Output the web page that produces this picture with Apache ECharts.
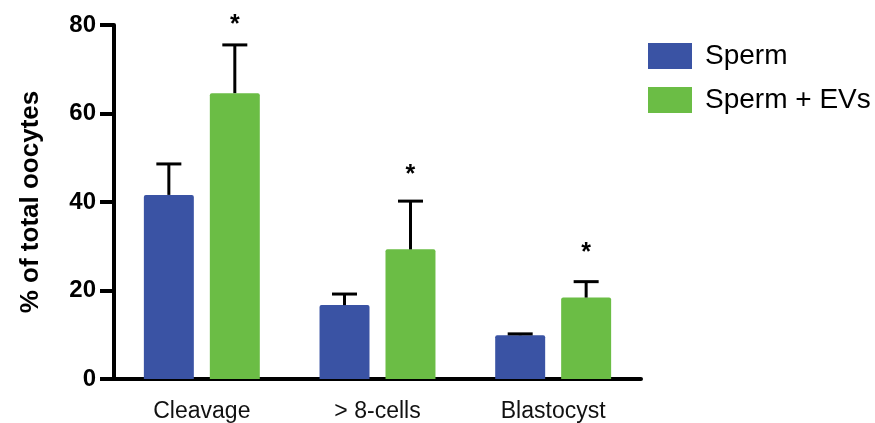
<!DOCTYPE html>
<html>
<head>
<meta charset="utf-8">
<script src="https://cdn.jsdelivr.net/npm/echarts@6/dist/echarts.min.js"></script>
<style>
html,body{margin:0;padding:0;background:#fff;}
#chart{width:875px;height:423px;}
</style>
</head>
<body>
<div id="chart"></div>
<script>
// ---- data ----
var categories = ['Cleavage', '> 8-cells', 'Blastocyst'];
var seriesNames = ['Sperm', 'Sperm + EVs'];
var spermMean = [41.6, 16.7, 9.9];
var spermErr  = [7.0, 2.5, 0.3];
var evMean    = [64.6, 29.3, 18.4];
var evErr     = [10.9, 10.9, 3.6];
var evSigMark = ['*', '*', '*'];
var evSigLevel = [81.1, 47.2, 29.6];   // y value where the significance mark sits
var yTicks = [0, 20, 40, 60, 80];

var COLORS = ['#3a53a4', '#6bbd45'];
var CAT_GAP = 0.34, BAR_GAP = 0.32;

function errData(means, errs, marks, levels) {
  return means.map(function (m, i) {
    return [i, m, errs[i], marks ? marks[i] : '', levels ? levels[i] : 0];
  });
}

function makeRender(side) {
  return function (params, api) {
    var cat = api.value(0), mean = api.value(1), err = api.value(2);
    var p0 = api.coord([cat, mean]);
    var p1 = api.coord([cat, mean + err]);
    var band = api.size([1, 0])[0];
    var bw = band * (1 - CAT_GAP) / (2 + BAR_GAP);
    var off = side * bw * (1 + BAR_GAP) / 2;
    var x = p0[0] + off;
    var half = 12.5;
    var st = { stroke: '#000', lineWidth: 3 };
    var children = [
      { type: 'line', shape: { x1: x, y1: p0[1], x2: x, y2: p1[1] }, style: st },
      { type: 'line', shape: { x1: x - half, y1: p1[1], x2: x + half, y2: p1[1] }, style: st }
    ];
    var mark = api.value(3);
    if (mark) {
      var pm = api.coord([cat, api.value(4)]);
      children.push({
        type: 'text',
        style: {
          text: mark, x: x, y: pm[1] + 5, align: 'center', verticalAlign: 'middle',
          font: 'bold 25px "Liberation Sans", Arial, sans-serif', fill: '#000'
        }
      });
    }
    return { type: 'group', children: children };
  };
}

var chart = echarts.init(document.getElementById('chart'));
chart.setOption({
  animation: false,
  backgroundColor: '#fff',
  textStyle: { fontFamily: '"Liberation Sans", Arial, sans-serif' },
  grid: { left: 114, right: 234, top: 25, bottom: 44 },
  legend: {
    data: seriesNames,
    orient: 'vertical',
    left: 643, top: 37,
    icon: 'rect',
    itemWidth: 44, itemHeight: 26, itemGap: 16,
    textStyle: { fontSize: 28, color: '#000', padding: [0, 0, 0, 8], lineHeight: 27 }
  },
  xAxis: {
    type: 'category',
    data: categories,
    axisLine: { lineStyle: { color: '#000', width: 4 } },
    axisTick: { alignWithLabel: true, length: 13, lineStyle: { color: '#000', width: 4 } },
    axisLabel: { fontSize: 23, color: '#111', margin: 21 }
  },
  yAxis: {
    type: 'value',
    min: yTicks[0], max: yTicks[yTicks.length - 1], interval: yTicks[1] - yTicks[0],
    name: '% of total oocytes',
    nameLocation: 'middle', nameRotate: 90, nameGap: 70,
    nameTextStyle: { fontSize: 26, fontWeight: 'bold', color: '#000' },
    splitLine: { show: false },
    axisLine: { show: true, lineStyle: { color: '#000', width: 4 } },
    axisTick: { show: true, length: 14, lineStyle: { color: '#000', width: 4 } },
    axisLabel: { fontSize: 24, fontWeight: 'bold', color: '#000', margin: 18 }
  },
  series: [
    {
      name: seriesNames[0], type: 'bar', data: spermMean,
      barCategoryGap: (CAT_GAP * 100) + '%', barGap: (BAR_GAP * 100) + '%',
      itemStyle: { color: COLORS[0], borderRadius: [2, 2, 0, 0] }
    },
    {
      name: seriesNames[1], type: 'bar', data: evMean,
      barCategoryGap: (CAT_GAP * 100) + '%', barGap: (BAR_GAP * 100) + '%',
      itemStyle: { color: COLORS[1], borderRadius: [2, 2, 0, 0] }
    },
    {
      type: 'custom', z: 5, silent: true,
      data: errData(spermMean, spermErr),
      encode: { x: 0, y: 1 },
      renderItem: makeRender(-1)
    },
    {
      type: 'custom', z: 5, silent: true,
      data: errData(evMean, evErr, evSigMark, evSigLevel),
      encode: { x: 0, y: 1 },
      renderItem: makeRender(1)
    }
  ]
});
</script>
</body>
</html>
